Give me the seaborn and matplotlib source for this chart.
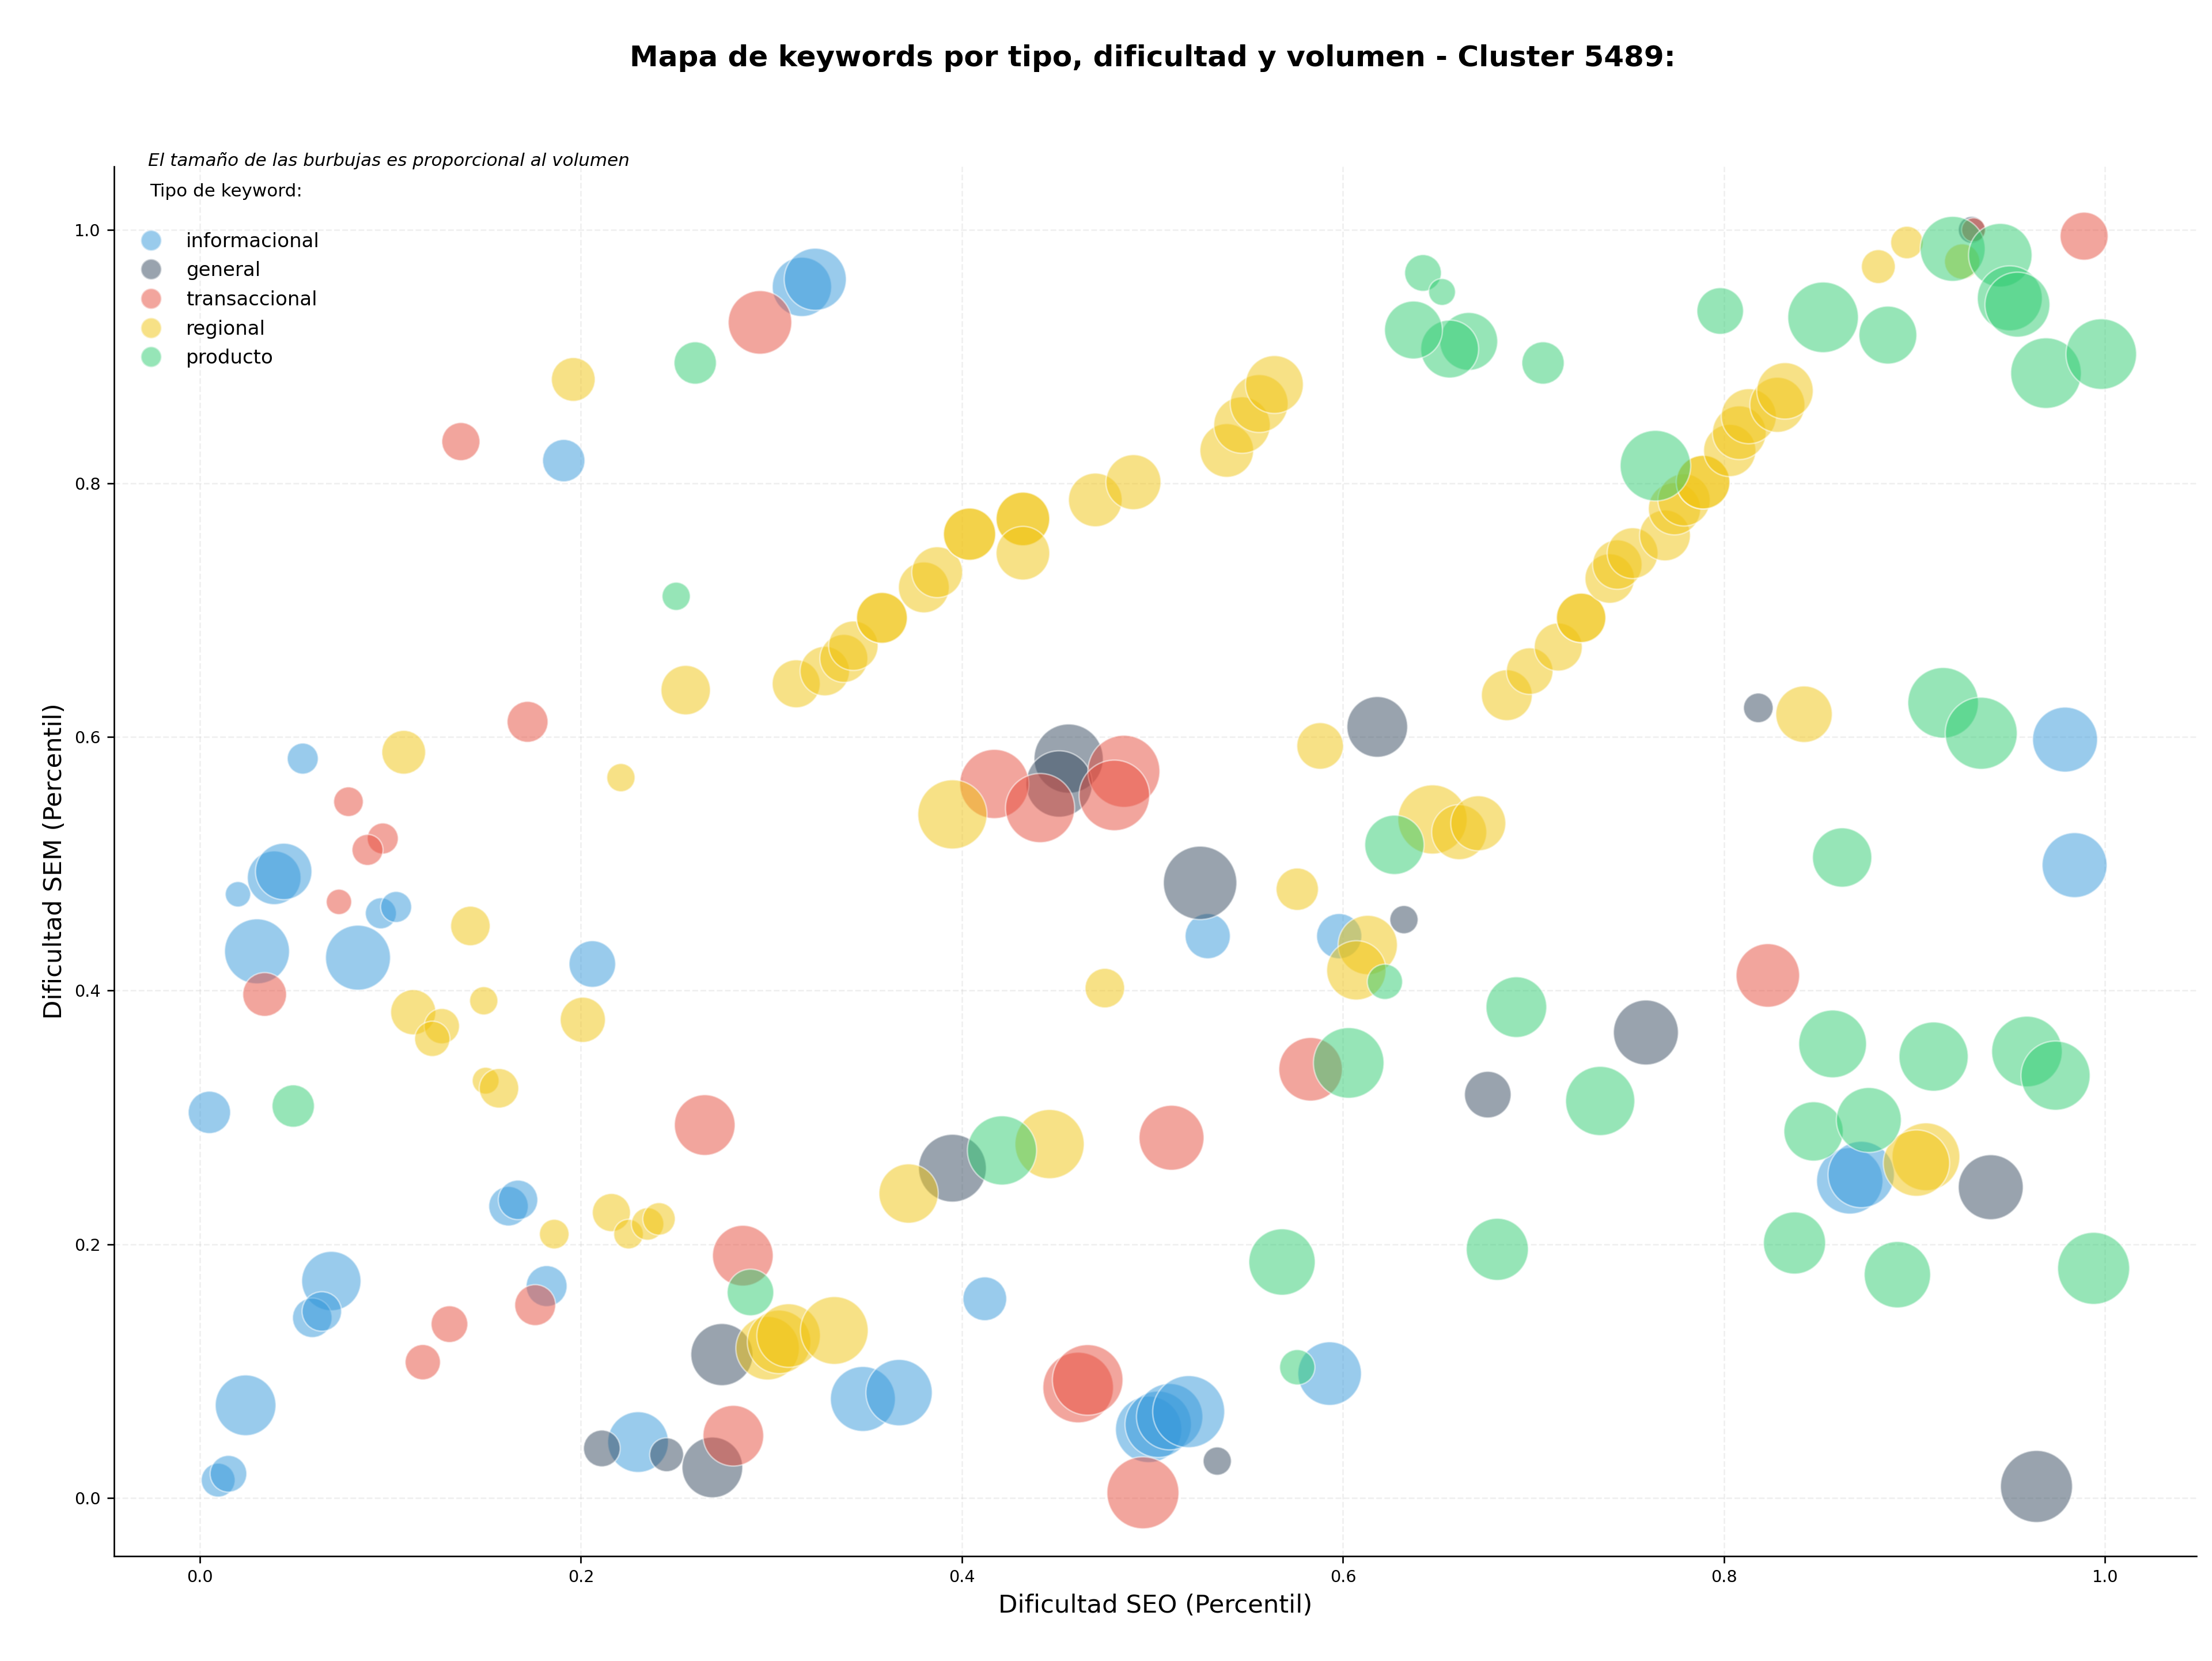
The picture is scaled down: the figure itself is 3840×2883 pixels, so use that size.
import matplotlib
matplotlib.use("Agg")
import matplotlib.pyplot as plt
from matplotlib.lines import Line2D
import pandas as pd
import seaborn as sns

# datos: dificultad SEO (x), dificultad SEM (y), volumen
info_x = [0.316, 0.323, 0.191, 0.054, 0.020, 0.039, 0.044, 0.095, 0.103, 0.030, 0.083, 0.206, 0.005,
          0.162, 0.167, 0.182, 0.069, 0.059, 0.064, 0.024, 0.0096, 0.015, 0.230, 0.348, 0.367, 0.412,
          0.498, 0.503, 0.509, 0.519, 0.529, 0.598, 0.593, 0.979, 0.984, 0.866, 0.872]
info_y = [0.955, 0.961, 0.818, 0.583, 0.476, 0.489, 0.494, 0.461, 0.466, 0.431, 0.426, 0.421, 0.304,
          0.230, 0.235, 0.167, 0.171, 0.142, 0.147, 0.073, 0.014, 0.019, 0.044, 0.078, 0.083, 0.157,
          0.054, 0.058, 0.064, 0.068, 0.443, 0.443, 0.098, 0.598, 0.499, 0.250, 0.255]
info_vol = [9530, 10450, 4860, 2610, 1750, 7800, 8640, 2610, 2610, 11430, 11430, 5880, 4860,
            4230, 4230, 4540, 9530, 4230, 4230, 9980, 3110, 3650, 9980, 11430, 11930, 5190,
            11930, 11930, 11930, 14050, 5530, 5530, 10940, 11430, 11430, 11930, 11930]

gen_x = [0.456, 0.451, 0.618, 0.525, 0.632, 0.676, 0.759, 0.818, 0.930, 0.940, 0.964, 0.534,
         0.274, 0.211, 0.245, 0.269, 0.395]
gen_y = [0.583, 0.563, 0.608, 0.485, 0.456, 0.318, 0.367, 0.623, 1.000, 0.245, 0.009, 0.029,
         0.113, 0.039, 0.034, 0.024, 0.260]
gen_vol = [12970, 11930, 9980, 14600, 2160, 5880, 11430, 2380, 1950, 11430, 14050, 2160,
           10450, 3650, 3110, 9980, 12440]

trans_x = [0.294, 0.137, 0.172, 0.078, 0.096, 0.088, 0.073, 0.034, 0.265, 0.285, 0.131, 0.176,
           0.117, 0.280, 0.417, 0.441, 0.485, 0.480, 0.510, 0.583, 0.461, 0.466, 0.495, 0.823,
           0.989, 0.931]
trans_y = [0.927, 0.833, 0.612, 0.549, 0.520, 0.511, 0.470, 0.397, 0.294, 0.191, 0.137, 0.152,
           0.107, 0.049, 0.563, 0.544, 0.573, 0.554, 0.284, 0.338, 0.087, 0.093, 0.004, 0.412,
           0.995, 1.000]
trans_vol = [10940, 3940, 4540, 2380, 2610, 2610, 1750, 5190, 9980, 9980, 3650, 4540,
             3380, 9980, 12970, 12970, 14050, 13500, 11430, 10940, 13500, 13500, 14050, 10940,
             6240, 1560]

reg_x = [0.196, 0.255, 0.313, 0.328, 0.338, 0.343, 0.358, 0.358, 0.380, 0.387, 0.404, 0.404,
         0.432, 0.432, 0.432, 0.470, 0.490, 0.539, 0.547, 0.556, 0.564,
         0.142, 0.112, 0.127, 0.122, 0.149, 0.201, 0.150, 0.157, 0.186, 0.216, 0.225, 0.235, 0.241,
         0.298, 0.304, 0.309, 0.333, 0.107, 0.221,
         0.395, 0.588, 0.647, 0.661, 0.671,
         0.686, 0.698, 0.713, 0.725, 0.725, 0.740, 0.744, 0.752, 0.769, 0.774, 0.779, 0.789, 0.789,
         0.803, 0.808, 0.813, 0.828, 0.832,
         0.881, 0.896, 0.842, 0.925, 0.906, 0.901,
         0.372, 0.446, 0.475, 0.576, 0.613, 0.607]
reg_y = [0.882, 0.637, 0.642, 0.652, 0.662, 0.672, 0.694, 0.694, 0.718, 0.730, 0.760, 0.760,
         0.772, 0.772, 0.745, 0.787, 0.801, 0.826, 0.846, 0.863, 0.878,
         0.451, 0.383, 0.372, 0.362, 0.392, 0.377, 0.329, 0.323, 0.208, 0.225, 0.208, 0.216, 0.220,
         0.118, 0.123, 0.128, 0.132, 0.588, 0.568,
         0.539, 0.593, 0.535, 0.525, 0.532,
         0.633, 0.652, 0.671, 0.694, 0.694, 0.725, 0.736, 0.745, 0.759, 0.780, 0.787, 0.801, 0.801,
         0.826, 0.840, 0.853, 0.862, 0.873,
         0.971, 0.990, 0.618, 0.975, 0.269, 0.264,
         0.240, 0.279, 0.402, 0.480, 0.436, 0.416]
reg_vol = [5190, 6620, 6240, 6620, 6240, 6620, 7000, 7000, 7000, 7000, 7390, 7390,
           7800, 7800, 7800, 7800, 8210, 7800, 8640, 9080, 9080,
           4230, 5530, 3380, 3380, 2160, 5530, 1950, 4230, 2380, 3940, 2380, 2860, 2860,
           10940, 10940, 10940, 12440, 5190, 2160,
           12970, 5880, 12970, 8210, 8210,
           7000, 5880, 6240, 6620, 6620, 6620, 6620, 7000, 7000, 7390, 7390, 7800, 7800,
           7390, 7800, 8210, 8210, 8640,
           3110, 2860, 8640, 3380, 12440, 11930,
           9530, 12970, 4230, 4860, 9530, 9530]

prod_x = [0.260, 0.250, 0.049, 0.289, 0.421, 0.568, 0.576, 0.603, 0.622, 0.627, 0.691, 0.681,
          0.735, 0.857, 0.910, 0.959, 0.974, 0.847, 0.876, 0.837, 0.891, 0.994, 0.862, 0.915,
          0.935, 0.764, 0.705, 0.666, 0.656, 0.637, 0.642, 0.652, 0.798, 0.852, 0.886, 0.920,
          0.945, 0.950, 0.954, 0.969, 0.998]
prod_y = [0.895, 0.711, 0.309, 0.162, 0.274, 0.186, 0.103, 0.343, 0.407, 0.515, 0.387, 0.196,
          0.313, 0.358, 0.348, 0.352, 0.333, 0.289, 0.298, 0.201, 0.176, 0.181, 0.505, 0.627,
          0.603, 0.814, 0.895, 0.912, 0.906, 0.921, 0.966, 0.951, 0.936, 0.931, 0.917, 0.985,
          0.980, 0.946, 0.941, 0.887, 0.902]
prod_vol = [4860, 2160, 4860, 5880, 12970, 11930, 3380, 13500, 3380, 9530, 9980, 10450,
            12970, 12440, 12970, 13500, 12970, 9530, 11430, 10450, 11930, 14050, 9530, 13500,
            14050, 13500, 4860, 9080, 9080, 9080, 3650, 1950, 5880, 13500, 9080, 11430,
            10940, 11430, 11430, 13500, 13500]

tipos = ["informacional", "general", "transaccional", "regional", "producto"]
colores = {"informacional": "#3498db", "general": "#34495e", "transaccional": "#e74c3c",
           "regional": "#f1c40f", "producto": "#2ecc71"}

series = {
    "informacional": (info_x, info_y, info_vol),
    "general": (gen_x, gen_y, gen_vol),
    "transaccional": (trans_x, trans_y, trans_vol),
    "regional": (reg_x, reg_y, reg_vol),
    "producto": (prod_x, prod_y, prod_vol),
}
df = pd.concat(
    [pd.DataFrame({"seo": v[0], "sem": v[1], "volumen": v[2], "tipo": k}) for k, v in series.items()],
    ignore_index=True,
)

sns.set_style("ticks")
plt.rcParams["font.family"] = ["DejaVu Sans"]
plt.rcParams.update({"text.color": "black", "axes.labelcolor": "black",
                     "xtick.color": "black", "ytick.color": "black", "axes.edgecolor": "black"})

fig = plt.figure(figsize=(16, 12.0125), dpi=240)
ax = fig.add_axes([0.0516, 0.0631, 0.9414, 0.8367])

sns.scatterplot(data=df, x="seo", y="sem", hue="tipo", hue_order=tipos, palette=colores,
                size="volumen", sizes=(0, 2000), size_norm=(0, 20000),
                alpha=0.5, edgecolor="white", linewidth=0.8, legend=False, ax=ax)

ax.set_xlim(-0.045, 1.048)
ax.set_ylim(-0.046, 1.05)
ax.grid(True, linestyle="--", alpha=0.3)
ax.tick_params(labelsize=8.6)
sns.despine(ax=ax)

ax.set_xlabel("Dificultad SEO (Percentil)", fontsize=13)
ax.set_ylabel("Dificultad SEM (Percentil)", fontsize=13)

fig.text(0.521, 0.965, "Mapa de keywords por tipo, dificultad y volumen - Cluster 5489:",
         ha="center", va="center", fontsize=15, fontweight="bold")

ax.text(0.0163, 1.004, "El tamaño de las burbujas es proporcional al volumen",
        transform=ax.transAxes, ha="left", va="center", fontsize=9.3, style="italic")
ax.text(0.0172, 0.982, "Tipo de keyword:", transform=ax.transAxes,
        ha="left", va="center", fontsize=9.3)

handles = [Line2D([], [], marker="o", linestyle="", markersize=10.8, markerfacecolor=colores[t],
                  markeredgecolor="white", alpha=0.5, label=t) for t in tipos]
ax.legend(handles=handles, loc="upper left", bbox_to_anchor=(0.0044, 0.9585), borderaxespad=0,
          frameon=False, fontsize=10.2, labelspacing=0.52)

fig.savefig("out.png", dpi=240)
